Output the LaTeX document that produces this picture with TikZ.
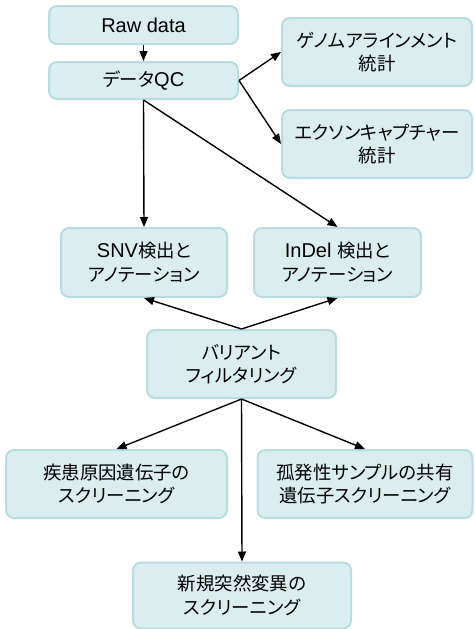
\documentclass[tikz,border=0pt]{standalone}
\usepackage{fontspec}
\setmainfont{Liberation Sans}
\newfontfamily\jp[RawFeature=+palt,Scale=0.92]{Noto Sans CJK JP}
\usetikzlibrary{arrows.meta}
\definecolor{boxfill}{HTML}{DAEDEF}
\definecolor{boxline}{HTML}{B9DCE0}
\begin{document}
\begin{tikzpicture}[x=1pt,y=-1pt,
    box/.style={draw=boxline,line width=2pt,fill=boxfill,rounded corners=8pt,
        inner sep=0pt,align=center,font=\fontsize{20}{23.5}\selectfont},
    arr/.style={line width=1.4pt,-{Triangle[length=10pt,width=8pt]}}]
    \useasboundingbox (0,0) rectangle (474,629);
    \node[box,minimum width=189pt,minimum height=38pt] (raw) at (143.5,25) {Raw data};
    \node[box,minimum width=189pt,minimum height=37pt] (qc) at (143.5,80.5) {{\jp データ}QC};
    \node[box,minimum width=190pt,minimum height=68pt] (genome) at (377,52) {\jp ゲノムアラインメント\\\jp 統計};
    \node[box,minimum width=190pt,minimum height=68pt] (exon) at (377,144) {\jp エクソンキャプチャー\\\jp 統計};
    \node[box,minimum width=166pt,minimum height=69pt] (snv) at (144,262.5) {SNV{\jp 検出と}\\\jp アノテーション};
    \node[box,minimum width=167pt,minimum height=69pt] (indel) at (337.5,262.5) {InDel {\jp 検出と}\\\jp アノテーション};
    \node[box,minimum width=189pt,minimum height=68pt] (variant) at (241.5,364) {\jp バリアント\\\jp フィルタリング};
    \node[box,minimum width=221pt,minimum height=68pt] (disease) at (116.5,484) {\jp 疾患原因遺伝子の\\\jp スクリーニング};
    \node[box,minimum width=215pt,minimum height=68pt] (sporadic) at (365,484) {\jp 孤発性サンプルの共有\\\jp 遺伝子スクリーニング};
    \node[box,minimum width=218pt,minimum height=66pt] (novo) at (242,595.5) {\jp 新規突然変異の\\\jp スクリーニング};
    % connectors
    \draw[arr] (raw.south) -- (qc.north);
    \draw[arr] (qc.east) -- (genome.west);
    \draw[arr] (qc.east) -- (exon.west);
    \draw[arr] (qc.south) -- (snv.north);
    \draw[arr] (qc.south) -- (indel.north);
    \draw[arr] (variant.north) -- (snv.south);
    \draw[arr] (variant.north) -- (indel.south);
    \draw[arr] (variant.south) -- (disease.north);
    \draw[arr] (variant.south) -- (sporadic.north);
    \draw[arr] (variant.south) -- (novo.north);
\end{tikzpicture}
\end{document}
